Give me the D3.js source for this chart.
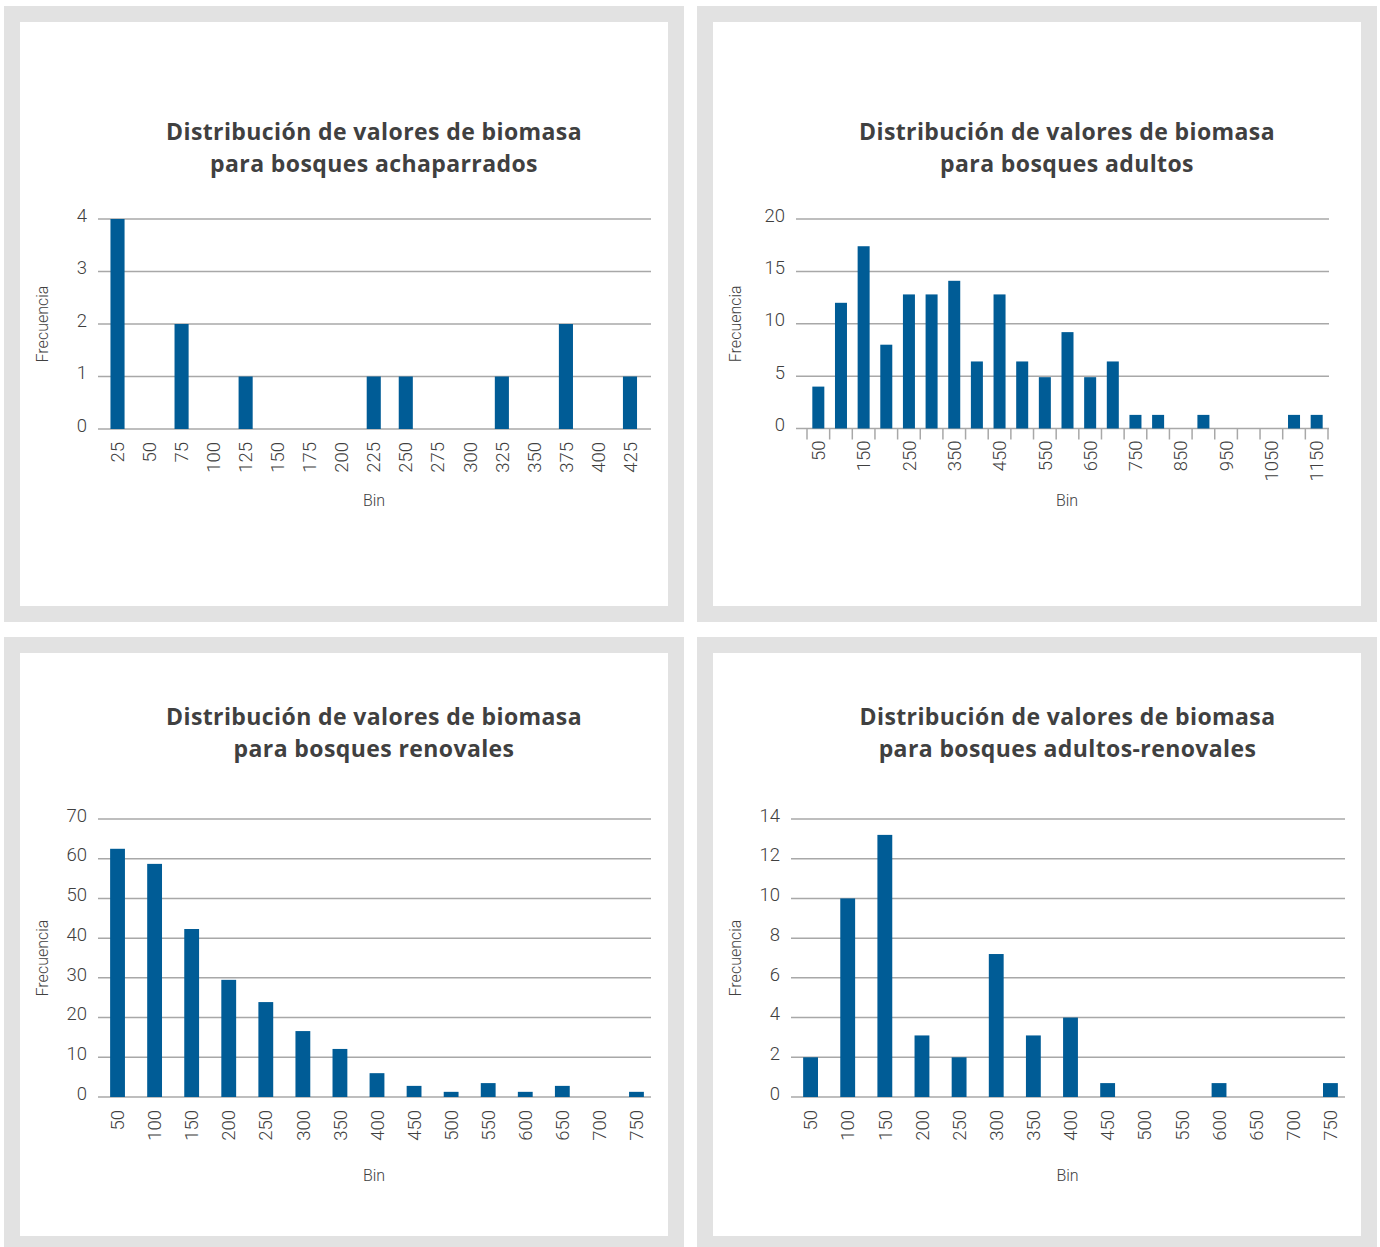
<!DOCTYPE html>
<html>
<head>
<meta charset="utf-8">
<script src="https://cdn.jsdelivr.net/npm/d3@7"></script>
<style>
  html, body { margin: 0; padding: 0; background: #ffffff; }
  svg { display: block; }
  .tick text { font-family: Roboto, "Open Sans", sans-serif; font-weight: 300; font-size: 18.5px; fill: #404040; }
  .axis-title { font-family: Roboto, "Open Sans", sans-serif; font-weight: 300; font-size: 16px; fill: #404040; }
  .chart-title { font-family: "Open Sans", Roboto, sans-serif; font-weight: 700; font-size: 23px; letter-spacing: 0.4px; fill: #404040; }
</style>
</head>
<body>
<svg id="chart" width="1380" height="1247"></svg>
<script>
// Bosques achaparrados
const binsAchaparrados = ["25","50","75","100","125","150","175","200","225","250","275","300","325","350","375","400","425"];
const freqAchaparrados = [4, 0, 2, 0, 1, 0, 0, 0, 1, 1, 0, 0, 1, 0, 2, 0, 1];
const yTicksAchaparrados = [0, 1, 2, 3, 4];
const xLabelsAchaparrados = binsAchaparrados;

// Bosques adultos
const binsAdultos = ["50","100","150","200","250","300","350","400","450","500","550","600","650","700","750","800","850","900","950","1000","1050","1100","1150"];
const freqAdultos = [4, 12, 17.4, 8, 12.8, 12.8, 14.1, 6.4, 12.8, 6.4, 4.9, 9.2, 4.9, 6.4, 1.3, 1.3, 0, 1.3, 0, 0, 0, 1.3, 1.3];
const yTicksAdultos = [0, 5, 10, 15, 20];
const xLabelsAdultos = ["50","150","250","350","450","550","650","750","850","950","1050","1150"];

// Bosques renovales
const binsRenovales = ["50","100","150","200","250","300","350","400","450","500","550","600","650","700","750"];
const freqRenovales = [62.5, 58.7, 42.3, 29.5, 23.9, 16.6, 12.1, 6, 2.8, 1.3, 3.5, 1.3, 2.8, 0, 1.3];
const yTicksRenovales = [0, 10, 20, 30, 40, 50, 60, 70];
const xLabelsRenovales = binsRenovales;

// Bosques adultos-renovales
const binsAdultosRenovales = ["50","100","150","200","250","300","350","400","450","500","550","600","650","700","750"];
const freqAdultosRenovales = [2, 10, 13.2, 3.1, 2, 7.2, 3.1, 4, 0.7, 0, 0, 0.7, 0, 0, 0.7];
const yTicksAdultosRenovales = [0, 2, 4, 6, 8, 10, 12, 14];
const xLabelsAdultosRenovales = binsAdultosRenovales;

const titleLine1 = "Distribución de valores de biomasa";
const subtitles = ["para bosques achaparrados", "para bosques adultos", "para bosques renovales", "para bosques adultos-renovales"];
const yAxisTitle = "Frecuencia";
const xAxisTitle = "Bin";

const BAR = "#005c96";
const GRID = "#a8a8a8";
const FRAME = "#e2e2e2";

const svg = d3.select("#chart");

function histogram(cfg) {
  const f = cfg.frame;
  // grey frame with white card
  svg.append("rect").attr("x", f.x).attr("y", f.y).attr("width", f.w).attr("height", f.h).attr("fill", FRAME);
  svg.append("rect").attr("x", f.x + 16).attr("y", f.y + 16).attr("width", f.w - 32).attr("height", f.h - 32).attr("fill", "#ffffff");

  const p = cfg.plot;
  const x = d3.scaleBand().domain(cfg.bins).range(cfg.band)
    .paddingInner(cfg.pad).paddingOuter(cfg.pad / 2);
  const y = d3.scaleLinear().domain([0, d3.max(cfg.yTicks)]).range([p.bottom, p.top]);
  const g = svg.append("g");
  const cx = cfg.centerX;

  // title
  const t = g.append("text").attr("class", "chart-title").attr("text-anchor", "middle");
  t.append("tspan").attr("x", cx).attr("y", cfg.titleY).text(titleLine1);
  t.append("tspan").attr("x", cx).attr("y", cfg.titleY + 32).text(cfg.subtitle);

  // horizontal gridlines
  g.append("g").selectAll("line").data(cfg.yTicks).join("line")
    .attr("x1", p.left).attr("x2", p.right)
    .attr("y1", d => y(d)).attr("y2", d => y(d))
    .attr("stroke", GRID).attr("stroke-width", 1.5);

  // tick marks at bin boundaries
  if (cfg.tickMarks) {
    const b0 = x(cfg.bins[0]) - x.step() * cfg.pad / 2;
    g.append("g").selectAll("line").data(d3.range(cfg.bins.length + 1)).join("line")
      .attr("x1", i => b0 + i * x.step()).attr("x2", i => b0 + i * x.step())
      .attr("y1", y(0)).attr("y2", y(0) + 11)
      .attr("stroke", GRID).attr("stroke-width", 1.5);
  }

  // bars
  g.append("g").selectAll("rect")
    .data(cfg.bins.map((b, i) => ({ b, v: cfg.values[i] })))
    .join("rect")
    .attr("x", d => x(d.b)).attr("width", x.bandwidth())
    .attr("y", d => y(d.v)).attr("height", d => y(0) - y(d.v))
    .attr("fill", BAR);

  // y axis labels
  g.append("g").attr("transform", `translate(${p.left},0)`)
    .call(d3.axisLeft(y).tickValues(cfg.yTicks).tickSize(0).tickPadding(11).tickFormat(d3.format("d")))
    .call(s => s.select(".domain").remove())
    .call(s => s.selectAll(".tick text").attr("dy", "0.12em"));

  // x axis labels, rotated
  const xg = g.append("g").attr("transform", `translate(0,${y(0)})`)
    .call(d3.axisBottom(x).tickValues(cfg.xLabels).tickSize(0));
  xg.select(".domain").remove();
  xg.selectAll(".tick text")
    .attr("transform", "rotate(-90)")
    .attr("text-anchor", "end")
    .attr("x", -cfg.labelGap).attr("y", 0).attr("dy", "0.36em");

  // axis titles
  const my = (p.top + p.bottom) / 2;
  g.append("text").attr("class", "axis-title").attr("text-anchor", "middle")
    .attr("transform", `translate(${cfg.yTitleX},${my}) rotate(-90)`)
    .attr("dy", "0.35em").text(yAxisTitle);
  g.append("text").attr("class", "axis-title").attr("text-anchor", "middle")
    .attr("x", cx).attr("y", cfg.xTitleY).attr("dy", "0.35em").text(xAxisTitle);
}

histogram({
  frame: { x: 4, y: 6, w: 680, h: 616 },
  plot: { left: 98, right: 651, top: 219, bottom: 429 },
  band: [101.5, 646], pad: 0.56, centerX: 374,
  bins: binsAchaparrados, values: freqAchaparrados, yTicks: yTicksAchaparrados, xLabels: xLabelsAchaparrados,
  subtitle: subtitles[0], titleY: 140, yTitleX: 42, xTitleY: 500, labelGap: 13, tickMarks: false
});

histogram({
  frame: { x: 697, y: 6, w: 680, h: 616 },
  plot: { left: 796, right: 1329, top: 219, bottom: 428.5 },
  band: [807, 1328], pad: 0.47, centerX: 1067,
  bins: binsAdultos, values: freqAdultos, yTicks: yTicksAdultos, xLabels: xLabelsAdultos,
  subtitle: subtitles[1], titleY: 140, yTitleX: 735, xTitleY: 500, labelGap: 12, tickMarks: true
});

histogram({
  frame: { x: 4, y: 637, w: 680, h: 615 },
  plot: { left: 98, right: 651, top: 819, bottom: 1097 },
  band: [99, 655], pad: 0.6, centerX: 374,
  bins: binsRenovales, values: freqRenovales, yTicks: yTicksRenovales, xLabels: xLabelsRenovales,
  subtitle: subtitles[2], titleY: 725, yTitleX: 42, xTitleY: 1175, labelGap: 13, tickMarks: false
});

histogram({
  frame: { x: 697, y: 637, w: 680, h: 615 },
  plot: { left: 791, right: 1345, top: 819, bottom: 1097 },
  band: [792, 1349], pad: 0.6, centerX: 1067.5,
  bins: binsAdultosRenovales, values: freqAdultosRenovales, yTicks: yTicksAdultosRenovales, xLabels: xLabelsAdultosRenovales,
  subtitle: subtitles[3], titleY: 725, yTitleX: 735, xTitleY: 1175, labelGap: 13, tickMarks: false
});
</script>
</body>
</html>
